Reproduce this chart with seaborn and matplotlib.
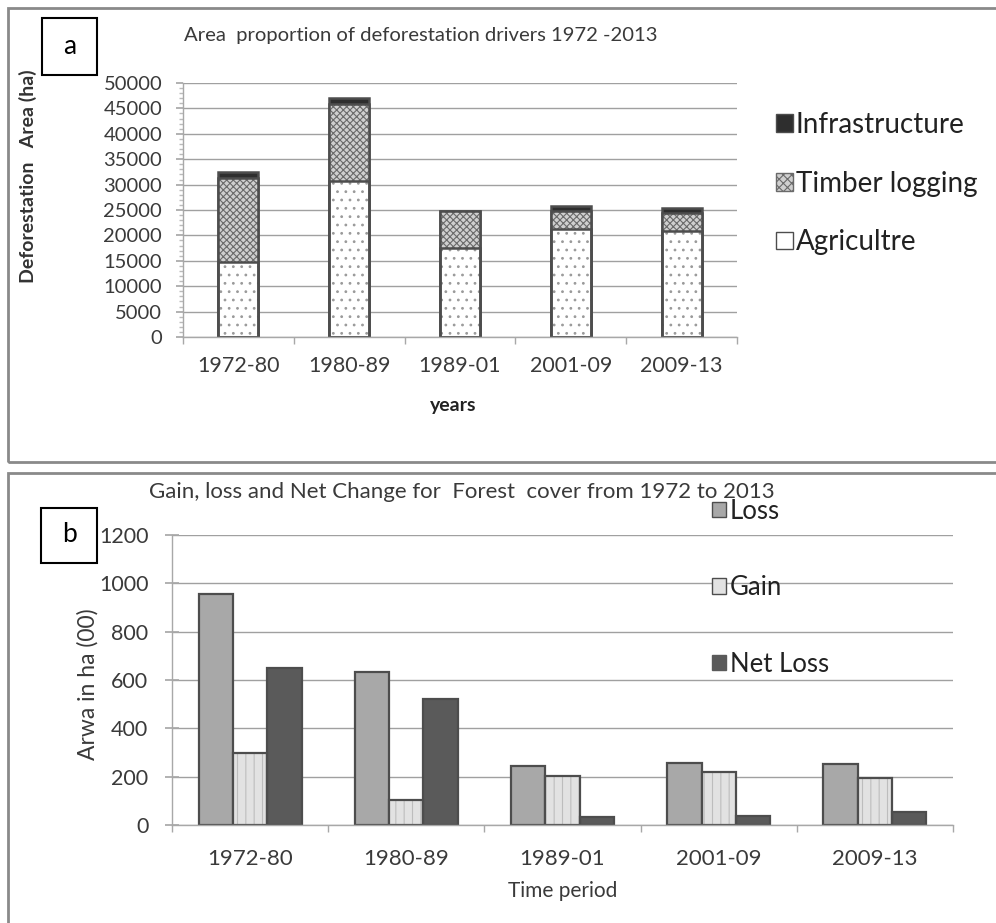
import matplotlib
matplotlib.use("Agg")
import matplotlib.pyplot as plt
import seaborn as sns
import pandas as pd
from matplotlib.patches import Rectangle, Patch
from matplotlib.ticker import MultipleLocator, FixedLocator

# ---------------- data ----------------
periods = ["1972-80", "1980-89", "1989-01", "2001-09", "2009-13"]
agriculture = [14800, 30700, 17500, 21200, 20800]
timber = [16500, 15200, 7300, 3600, 3700]
infrastructure = [1200, 1100, 100, 1000, 800]

measures = ["Loss", "Gain", "Net Loss"]
loss = [955, 632, 244, 255, 252]
gain = [300, 103, 204, 218, 193]
net_loss = [651, 520, 34, 38, 55]

# ---------------- style ----------------
sns.set_theme(style="white")
plt.rcParams["font.family"] = ["Lato", "DejaVu Sans"]
plt.rcParams["hatch.linewidth"] = 0.8

W, H = 996, 923
fig = plt.figure(figsize=(W / 100, H / 100), dpi=100)
fig.patch.set_facecolor("white")

def fx(px):
    return px / W

def fy(py):
    return 1 - py / H

TXT = "#3a3a3a"
EDGE = "#4d4d4d"
GRID = "#a0a0a0"

# outer panel frames
fig.add_artist(Rectangle((fx(8), fy(462)), fx(1000) - fx(8), fy(8) - fy(462),
                         transform=fig.transFigure, fill=False, ec="#8a8a8a", lw=2))
fig.add_artist(Rectangle((fx(8), fy(925)), fx(1000) - fx(8), fy(473) - fy(925),
                         transform=fig.transFigure, fill=False, ec="#8a8a8a", lw=2))

# ---------------- panel a ----------------
ax1 = fig.add_axes([fx(183), fy(337), fx(737) - fx(183), fy(83) - fy(337)])
dfa = pd.DataFrame({"period": periods, "agr": agriculture, "tim": timber, "inf": infrastructure})
dfa["c2"] = dfa["agr"] + dfa["tim"]
dfa["c3"] = dfa["c2"] + dfa["inf"]

sns.barplot(data=dfa, x="period", y="c3", color="#2e2e2e", saturation=1, width=0.36,
            edgecolor=EDGE, linewidth=1.8, ax=ax1)
sns.barplot(data=dfa, x="period", y="c2", color="#cfcfcf", saturation=1, width=0.36,
            edgecolor="#6a6a6a", linewidth=0, hatch="xxxxx", ax=ax1)
sns.barplot(data=dfa, x="period", y="agr", color="white", saturation=1, width=0.36,
            edgecolor="#9a9a9a", linewidth=0, hatch="..", ax=ax1)
# outlines for hatched segments
for cont in ax1.containers[1:]:
    for p in cont.patches:
        ax1.add_patch(Rectangle(p.get_xy(), p.get_width(), p.get_height(),
                                fill=False, ec=EDGE, lw=1.8, zorder=p.get_zorder() + 0.1))

ax1.set_ylim(0, 50000)
ax1.set_xlim(-0.5, 4.5)
ax1.yaxis.set_major_locator(MultipleLocator(5000))
ax1.yaxis.set_minor_locator(MultipleLocator(1000))
ax1.yaxis.grid(True, color=GRID, lw=1)
ax1.set_axisbelow(True)
for s in ["top", "right"]:
    ax1.spines[s].set_visible(False)
for s in ["left", "bottom"]:
    ax1.spines[s].set_color("#a8a8a8")
    ax1.spines[s].set_linewidth(1)
ax1.tick_params(axis="y", which="major", length=5, color="#a8a8a8", labelsize=14.5,
                labelcolor=TXT, pad=10, direction="out", left=True)
ax1.tick_params(axis="y", which="minor", length=3, color="#bbbbbb", left=True)
ax1.xaxis.set_minor_locator(FixedLocator([-0.5, 0.5, 1.5, 2.5, 3.5, 4.5]))
ax1.tick_params(axis="x", which="major", length=0, labelsize=15.5, labelcolor=TXT, pad=14)
ax1.tick_params(axis="x", which="minor", length=5, color="#a8a8a8", bottom=True)
ax1.set_xlabel("years", fontsize=14, fontweight="bold", color="#222222", va="center")
ax1.xaxis.set_label_coords(fx(453), fy(405), transform=fig.transFigure)
ax1.set_ylabel("Deforestation   Area (ha)", fontsize=14, fontweight="bold",
               color="#333333", va="center")
ax1.yaxis.set_label_coords(fx(28), fy(176), transform=fig.transFigure)

fig.text(fx(421), fy(35), "Area  proportion of deforestation drivers 1972 -2013",
         ha="center", va="center", fontsize=14.6, color=TXT)

handles_a = [Patch(facecolor="#2e2e2e", edgecolor=EDGE),
             Patch(facecolor="#cfcfcf", edgecolor="#6a6a6a", hatch="xxxx"),
             Patch(facecolor="white", edgecolor=EDGE)]
fig.legend(handles_a, ["Infrastructure", "Timber logging", "Agricultre"],
           loc="upper left", bbox_to_anchor=(fx(762), fy(98)), frameon=False,
           fontsize=20, labelspacing=1.18, handlelength=0.6, handleheight=0.6,
           handletextpad=0.12, borderpad=0, labelcolor="#222222")

# label box a
fig.add_artist(Rectangle((fx(42), fy(75)), fx(97) - fx(42), fy(18) - fy(75),
                         transform=fig.transFigure, fill=False, ec="black", lw=1.5))
fig.text(fx(69.5), fy(46), "a", ha="center", va="center", fontsize=19, color="black")

# ---------------- panel b ----------------
ax2 = fig.add_axes([fx(172), fy(825), fx(953) - fx(172), fy(535) - fy(825)])
dfb = pd.DataFrame({
    "period": periods * 3,
    "measure": [m for m in measures for _ in periods],
    "value": loss + gain + net_loss,
})
pal = {"Loss": "#a8a8a8", "Gain": "#e2e2e2", "Net Loss": "#5a5a5a"}
sns.barplot(data=dfb, x="period", y="value", hue="measure", hue_order=measures,
            palette=pal, saturation=1, width=0.66, edgecolor=EDGE, linewidth=1.6,
            legend=False, ax=ax2)
for p in ax2.containers[1].patches:
    p.set_hatch("||")
    p.set_edgecolor("#bdbdbd")
    p.set_linewidth(0)
    ax2.add_patch(Rectangle(p.get_xy(), p.get_width(), p.get_height(),
                            fill=False, ec=EDGE, lw=1.6, zorder=p.get_zorder() + 0.1))

ax2.set_ylim(0, 1200)
ax2.set_xlim(-0.5, 4.5)
ax2.yaxis.set_major_locator(MultipleLocator(200))
ax2.yaxis.grid(True, color=GRID, lw=1)
ax2.set_axisbelow(True)
for s in ["top", "right"]:
    ax2.spines[s].set_visible(False)
for s in ["left", "bottom"]:
    ax2.spines[s].set_color("#a8a8a8")
    ax2.spines[s].set_linewidth(1)
ax2.tick_params(axis="y", which="major", length=10, color="#a8a8a8", labelsize=15.5,
                labelcolor=TXT, pad=12, direction="inout", left=True)
ax2.xaxis.set_minor_locator(FixedLocator([-0.5, 0.5, 1.5, 2.5, 3.5, 4.5]))
ax2.tick_params(axis="x", which="major", length=0, labelsize=16, labelcolor=TXT, pad=17)
ax2.tick_params(axis="x", which="minor", length=5, color="#a8a8a8", bottom=True)
ax2.set_xlabel("Time period", fontsize=15, color=TXT, va="center")
ax2.xaxis.set_label_coords(fx(563), fy(891), transform=fig.transFigure)
ax2.set_ylabel("Arwa in ha (00)", fontsize=16.5, color=TXT, va="center")
ax2.yaxis.set_label_coords(fx(88), fy(684), transform=fig.transFigure)

fig.text(fx(462), fy(492), "Gain, loss and Net Change for  Forest  cover from 1972 to 2013",
         ha="center", va="center", fontsize=16, color=TXT)

handles_b = [Patch(facecolor=pal["Loss"], edgecolor=EDGE),
             Patch(facecolor=pal["Gain"], edgecolor=EDGE),
             Patch(facecolor=pal["Net Loss"], edgecolor="#5a5a5a")]
fig.legend(handles_b, measures, loc="upper left", bbox_to_anchor=(fx(699), fy(486)),
           frameon=False, fontsize=18.5, labelspacing=2.0, handlelength=0.55,
           handleheight=0.55, handletextpad=0.15, borderpad=0, labelcolor="#222222")

fig.add_artist(Rectangle((fx(41), fy(563)), fx(97) - fx(41), fy(508) - fy(563),
                         transform=fig.transFigure, fill=False, ec="black", lw=1.5))
fig.text(fx(69), fy(535), "b", ha="center", va="center", fontsize=19, color="black")

fig.savefig("out.png", dpi=100, facecolor="white")
